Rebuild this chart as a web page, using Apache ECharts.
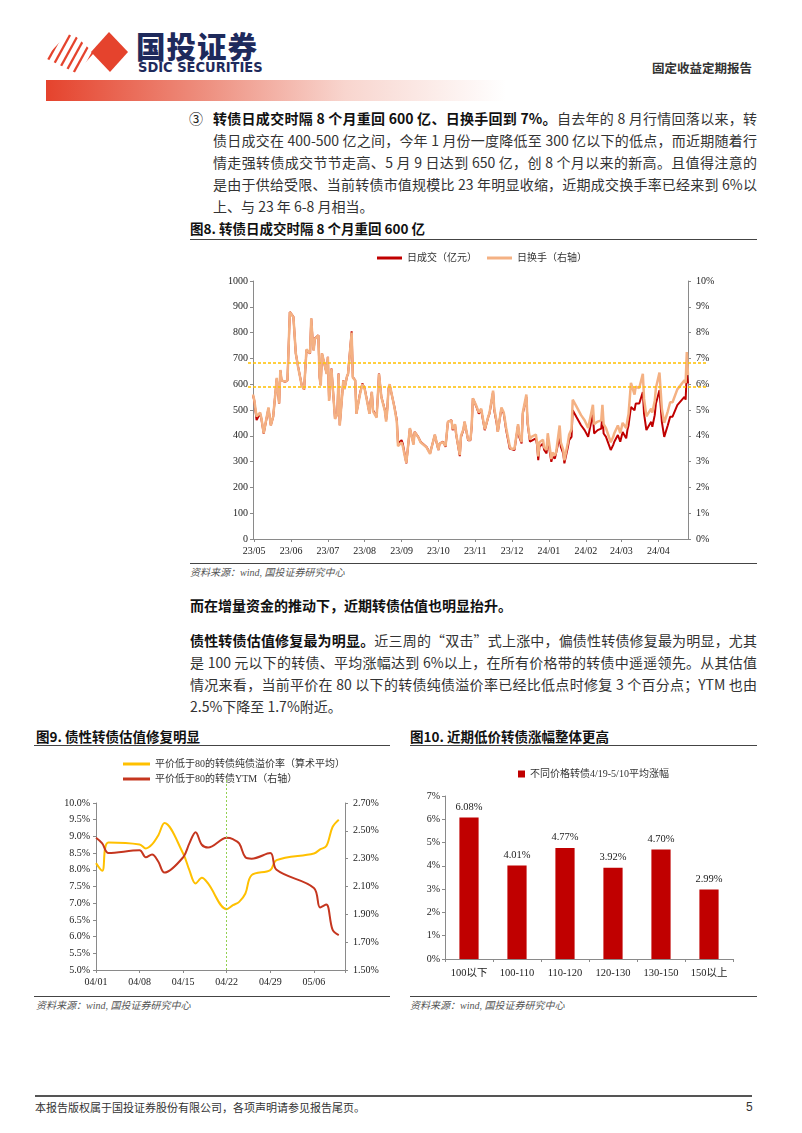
<!DOCTYPE html>
<html><head><meta charset="utf-8">
<script src="https://cdn.jsdelivr.net/npm/echarts@6/dist/echarts.min.js"></script>
<style>
html,body{margin:0;padding:0;background:#fff}
body{width:802px;height:1133px;position:relative;overflow:hidden;font-family:"Noto Sans CJK SC","Liberation Sans",sans-serif;color:#222}
.a{position:absolute;white-space:nowrap}
.ln{position:absolute;font-size:14px;line-height:22px;height:22px;white-space:nowrap;color:#333;text-align:justify;text-align-last:justify}
.nj{text-align:left;text-align-last:left}
b{font-weight:700;color:#111}
.ttl{position:absolute;font-size:13.5px;font-weight:700;color:#111;white-space:nowrap}
.rule{position:absolute;height:0;border-top:1.5px solid #444}
.src{position:absolute;font-size:10px;font-style:italic;color:#555;white-space:nowrap;font-family:"Liberation Serif","Noto Sans CJK SC",serif}
.ch{position:absolute}
</style></head>
<body>
<!-- header -->
<svg class="a" style="left:40px;top:28px" width="100" height="48">
  <defs><clipPath id="cp"><polygon points="30,3 54,25 36,45 5,30"/></clipPath></defs>
  <g clip-path="url(#cp)" stroke="#E5432D" stroke-width="2.3">
    <line x1="-6" y1="42" x2="16" y2="2"/><line x1="1" y1="45" x2="23" y2="5"/>
    <line x1="8" y1="47" x2="30" y2="7"/><line x1="15" y1="49" x2="37" y2="9"/>
    <line x1="22" y1="51" x2="44" y2="11"/><line x1="29" y1="53" x2="51" y2="13"/>
    <line x1="36" y1="55" x2="58" y2="15"/>
  </g>
  <polygon points="69,4 88,24 70,44 51,24" fill="#E5432D"/>
</svg>
<div class="a" style="left:136px;top:28px;font-size:29.5px;font-weight:900;color:#1E2A5C;letter-spacing:1px;line-height:34px">国投证券</div>
<div class="a" style="left:138px;top:60px;font-size:14.5px;font-weight:700;color:#1E2A5C;font-family:'Liberation Sans Narrow','DejaVu Sans Condensed','Liberation Sans',sans-serif;line-height:15px;letter-spacing:0px">SDIC SECURITIES</div>
<div class="a" style="left:652px;top:60px;font-size:12.5px;font-weight:700;color:#333;line-height:16px">固定收益定期报告</div>
<div class="a" style="left:46px;top:80px;width:460px;height:21px;background:linear-gradient(to right,#E5432D 0%,#EE9080 35%,#F8D5CE 65%,#ffffff 100%)"></div>

<!-- paragraph 3 -->
<div class="a" style="left:189px;top:107px;font-size:14px;line-height:22px;color:#222">③</div>
<div class="ln" style="left:213px;top:107px;width:544px"><b>转债日成交时隔 8 个月重回 600 亿、日换手回到 7%。</b>自去年的 8 月行情回落以来，转</div>
<div class="ln" style="left:213px;top:129px;width:544px">债日成交在 400-500 亿之间，今年 1 月份一度降低至 300 亿以下的低点，而近期随着行</div>
<div class="ln" style="left:213px;top:151px;width:544px">情走强转债成交节节走高、5 月 9 日达到 650 亿，创 8 个月以来的新高。且值得注意的</div>
<div class="ln" style="left:213px;top:173px;width:544px">是由于供给受限、当前转债市值规模比 23 年明显收缩，近期成交换手率已经来到 6%以</div>
<div class="ln nj" style="left:213px;top:195px;width:544px">上、与 23 年 6-8 月相当。</div>

<div class="ttl" style="left:190px;top:218px">图8. 转债日成交时隔 8 个月重回 600 亿</div>
<div class="rule" style="left:190px;top:239px;width:567px"></div>
<div id="c8" class="ch" style="left:180px;top:244px;width:590px;height:318px"></div>
<div class="rule" style="left:190px;top:563px;width:567px;border-top-width:1px"></div>
<div class="src" style="left:190px;top:564px">资料来源：wind, 国投证券研究中心</div>

<div class="ln nj" style="left:190px;top:594px;width:567px"><b>而在增量资金的推动下，近期转债估值也明显抬升。</b></div>
<div class="ln" style="left:190px;top:629px;width:567px"><b>债性转债估值修复最为明显。</b>近三周的“双击”式上涨中，偏债性转债修复最为明显，尤其</div>
<div class="ln" style="left:190px;top:651px;width:567px">是 100 元以下的转债、平均涨幅达到 6%以上，在所有价格带的转债中遥遥领先。从其估值</div>
<div class="ln" style="left:190px;top:673px;width:567px">情况来看，当前平价在 80 以下的转债纯债溢价率已经比低点时修复 3 个百分点；YTM 也由</div>
<div class="ln nj" style="left:190px;top:695px;width:567px">2.5%下降至 1.7%附近。</div>

<div class="ttl" style="left:36px;top:726px">图9. 债性转债估值修复明显</div>
<div class="rule" style="left:34px;top:745px;width:356px"></div>
<div id="c9" class="ch" style="left:30px;top:750px;width:370px;height:244px"></div>
<div class="rule" style="left:34px;top:996px;width:356px;border-top-width:1px"></div>
<div class="src" style="left:36px;top:997px">资料来源：wind, 国投证券研究中心</div>

<div class="ttl" style="left:410px;top:726px">图10. 近期低价转债涨幅整体更高</div>
<div class="rule" style="left:410px;top:745px;width:347px"></div>
<div id="c10" class="ch" style="left:400px;top:750px;width:380px;height:244px"></div>
<div class="rule" style="left:410px;top:996px;width:347px;border-top-width:1px"></div>
<div class="src" style="left:410px;top:997px">资料来源：wind, 国投证券研究中心</div>

<div class="rule" style="left:35px;top:1095px;width:717px;border-top:2px solid #555"></div>
<div class="a" style="left:35px;top:1099px;font-size:11px;color:#333;line-height:16px">本报告版权属于国投证券股份有限公司，各项声明请参见报告尾页。</div>
<div class="a" style="left:746px;top:1099px;font-size:12px;color:#333;line-height:16px;font-family:'Liberation Sans',sans-serif">5</div>

<script>
// ---------- Figure 8 data ----------
const volDates = ['2023-05-09','2023-05-10','2023-05-12','2023-05-15','2023-05-16','2023-05-18','2023-05-22','2023-05-24','2023-05-26','2023-05-29','2023-05-31',
'2023-06-01','2023-06-02','2023-06-05','2023-06-07','2023-06-09','2023-06-12','2023-06-14','2023-06-16','2023-06-19','2023-06-21','2023-06-23','2023-06-26','2023-06-27','2023-06-28','2023-06-29','2023-06-30',
'2023-07-03','2023-07-04','2023-07-05','2023-07-06','2023-07-07','2023-07-10','2023-07-11','2023-07-12','2023-07-14','2023-07-17','2023-07-18','2023-07-19','2023-07-20','2023-07-21','2023-07-24','2023-07-25','2023-07-27','2023-07-28','2023-07-31',
'2023-08-01','2023-08-03','2023-08-04','2023-08-07','2023-08-09','2023-08-11','2023-08-14','2023-08-15','2023-08-16','2023-08-17','2023-08-18','2023-08-21','2023-08-22','2023-08-23','2023-08-25','2023-08-28','2023-08-29','2023-08-30','2023-08-31',
'2023-09-01','2023-09-05','2023-09-07','2023-09-08','2023-09-11','2023-09-12','2023-09-14','2023-09-15','2023-09-18','2023-09-19','2023-09-21','2023-09-22','2023-09-25','2023-09-27',
'2023-10-02','2023-10-05','2023-10-06','2023-10-09','2023-10-10','2023-10-12','2023-10-13','2023-10-16','2023-10-18','2023-10-20','2023-10-23','2023-10-24','2023-10-26','2023-10-27','2023-10-30','2023-10-31',
'2023-11-02','2023-11-03','2023-11-06','2023-11-08','2023-11-09','2023-11-10','2023-11-13','2023-11-15','2023-11-17','2023-11-20','2023-11-21','2023-11-23','2023-11-24','2023-11-27','2023-11-28','2023-11-30',
'2023-12-01','2023-12-04','2023-12-06','2023-12-08','2023-12-11','2023-12-12','2023-12-15','2023-12-18','2023-12-19','2023-12-21','2023-12-22','2023-12-25','2023-12-26','2023-12-28','2023-12-29',
'2024-01-02','2024-01-03','2024-01-04','2024-01-05','2024-01-08','2024-01-09','2024-01-11','2024-01-12','2024-01-15','2024-01-16','2024-01-18','2024-01-19','2024-01-22','2024-01-23','2024-01-25','2024-01-26','2024-01-29','2024-01-30',
'2024-02-01','2024-02-02','2024-02-05','2024-02-09','2024-02-12','2024-02-15','2024-02-19','2024-02-20','2024-02-23','2024-02-26','2024-02-27','2024-02-28',
'2024-03-01','2024-03-05','2024-03-07','2024-03-08','2024-03-11','2024-03-13','2024-03-15','2024-03-18','2024-03-19','2024-03-20','2024-03-22','2024-03-25','2024-03-26','2024-03-29',
'2024-04-01','2024-04-02','2024-04-04','2024-04-08','2024-04-09','2024-04-11','2024-04-12','2024-04-15','2024-04-17','2024-04-19','2024-04-22','2024-04-24','2024-04-26','2024-04-30',
'2024-05-06','2024-05-07','2024-05-08','2024-05-09'];
const volume = [557,538,461,486,467,409,506,441,474,622,525,
654,615,609,615,880,861,719,667,596,579,732,719,854,783,732,777,
790,628,596,719,699,641,706,538,661,467,461,486,641,441,615,583,628,641,805,
628,615,486,564,603,583,512,486,538,570,499,474,551,641,551,499,461,506,583,
596,512,461,370,383,370,319,293,428,428,370,415,396,377,
357,332,351,403,383,345,370,377,357,454,461,422,441,403,321,396,
422,454,383,383,435,545,512,486,500,422,422,474,486,570,499,448,
415,506,486,422,351,345,345,441,396,370,486,551,448,377,383,
390,364,306,357,370,345,332,390,299,319,312,319,396,357,332,293,357,383,
396,499,474,441,422,396,486,409,422,428,480,409,
396,345,364,377,403,377,415,390,422,441,512,499,525,525,
570,486,422,454,435,480,525,577,454,396,441,474,474,519,
551,540,648,603];
const turnover = [5.60,5.40,4.75,4.90,4.70,4.10,5.10,4.40,4.75,6.25,5.25,
6.55,6.15,6.10,6.15,8.80,8.60,7.20,6.65,5.95,5.80,7.35,7.20,8.55,7.80,7.30,7.75,
7.90,6.25,5.95,7.20,7.00,6.40,7.05,5.35,6.60,4.65,4.60,4.85,6.40,4.40,6.15,5.80,6.30,6.40,8.00,
6.25,6.15,4.85,5.60,6.00,5.80,5.10,4.85,5.35,5.70,4.95,4.70,5.50,6.40,5.50,4.95,4.55,5.00,5.85,
6.00,5.10,4.55,3.60,3.75,3.60,3.15,2.95,4.30,4.25,3.65,4.15,3.95,3.75,
3.55,3.30,3.50,4.05,3.85,3.45,3.70,3.75,3.60,4.55,4.60,4.25,4.45,4.05,3.25,4.00,
4.25,4.55,3.85,3.85,4.40,5.45,5.15,4.90,5.05,4.25,4.20,4.75,4.90,5.75,5.05,4.55,
4.15,5.10,4.90,4.30,3.60,3.50,3.50,4.45,4.05,3.75,4.90,5.60,4.55,3.85,3.95,
4.05,3.75,3.20,3.75,3.85,3.55,3.45,4.10,3.10,3.35,3.25,3.35,4.40,3.75,3.45,3.05,3.75,4.05,
4.25,5.40,5.15,4.80,4.60,4.30,5.20,4.45,4.55,4.60,5.20,4.45,
4.30,3.75,3.95,4.10,4.40,4.10,4.50,4.30,4.60,4.85,6.05,5.60,5.90,5.85,
6.40,5.45,4.75,5.05,4.90,5.35,5.85,6.45,5.05,4.50,4.95,5.30,5.30,5.80,
6.15,6.05,7.25,6.35];
const monthLabels = ['23/05','23/06','23/07','23/08','23/09','23/10','23/11','23/12','24/01','24/02','24/03','24/04'];
const monthLabelDates = ['2023-05-10','2023-06-10','2023-07-11','2023-08-11','2023-09-11','2023-10-12','2023-11-12','2023-12-13','2024-01-13','2024-02-13','2024-03-14','2024-04-14'];
const refLines8 = [683, 590];
const axisStart8 = '2023-05-09', axisEnd8 = '2024-05-09';

// ---------- Figure 9 data ----------
const valDates = ['2024-04-01','2024-04-02','2024-04-03','2024-04-08','2024-04-09','2024-04-10','2024-04-11','2024-04-12','2024-04-15','2024-04-16','2024-04-17','2024-04-18','2024-04-19','2024-04-22','2024-04-23','2024-04-24','2024-04-25','2024-04-26','2024-04-29','2024-04-30','2024-05-06','2024-05-07','2024-05-08','2024-05-09','2024-05-10'];
const premium = [8.20,7.97,8.82,8.76,8.64,8.76,9.03,9.40,8.49,7.99,7.59,7.76,7.59,6.82,6.94,7.04,7.29,7.84,7.99,8.29,8.49,8.61,8.71,9.28,9.50];
const ytm = [2.45,2.41,2.34,2.36,2.31,2.33,2.28,2.20,2.31,2.41,2.49,2.40,2.38,2.45,2.44,2.41,2.31,2.30,2.34,2.22,2.09,1.95,1.97,1.79,1.75];
const weekLabels = ['04/01','04/08','04/15','04/22','04/29','05/06'];
const markDate9 = '2024-04-22';
const axisStart9 = '2024-04-01', axisEnd9 = '2024-05-11';

// ---------- Figure 10 data ----------
const priceBands = ['100以下','100-110','110-120','120-130','130-150','150以上'];
const avgGain = [6.08,4.01,4.77,3.92,4.70,2.99];

const DAY = 86400000;
const dayIdx = (s, base) => Math.round((Date.parse(s) - Date.parse(base)) / DAY);

const NUMF = '"Liberation Serif","Noto Sans CJK SC",serif';
const AX = '#8a8a8a';
const lbl = {fontFamily: NUMF, fontSize: 10, color: '#222'};
const hiddenAxis = {show: false};

// ---------- Chart 8 ----------
(function(){
  const c = echarts.init(document.getElementById('c8'));
  const max = dayIdx(axisEnd8, axisStart8);
  const ticks = monthLabelDates.map(d => dayIdx(d, axisStart8));
  c.setOption({
    animation: false,
    legend: {top: 4, left: 192, itemGap: 10, itemWidth: 25, itemHeight: 3, icon: 'rect',
      data: ['日成交（亿元）', '日换手（右轴）'],
      textStyle: {fontFamily: NUMF, fontSize: 10, color: '#333'}},
    grid: [{left: 73, top: 37, width: 435, height: 258},
           {left: 68, top: 37, width: 459, height: 258}],
    xAxis: [{type: 'value', min: 0, max: max, gridIndex: 0,
      axisLine: {lineStyle: {color: AX}},
      axisTick: {show: true, length: 3, lineStyle: {color: AX}, customValues: ticks},
      splitLine: {show: false},
      axisLabel: Object.assign({margin: 7, customValues: ticks,
        formatter: v => { const i = ticks.indexOf(Math.round(v)); return i >= 0 ? monthLabels[i] : ''; }}, lbl)},
      Object.assign({type: 'value', min: 0, max: 1, gridIndex: 1}, hiddenAxis)],
    yAxis: [
      {type: 'value', min: 0, max: 1000, interval: 100, splitLine: {show: false}, gridIndex: 0,
        axisLine: {show: true, lineStyle: {color: AX}}, axisTick: {show: true, length: 3, lineStyle: {color: AX}},
        axisLabel: Object.assign({margin: 5, formatter: v => String(v)}, lbl)},
      {type: 'value', min: 0, max: 10, interval: 1, splitLine: {show: false}, gridIndex: 0,
        axisLine: {show: true, lineStyle: {color: AX}}, axisTick: {show: true, length: 3, lineStyle: {color: AX}},
        axisLabel: Object.assign({margin: 8, formatter: '{value}%'}, lbl)},
      Object.assign({type: 'value', min: 0, max: 1000, gridIndex: 1}, hiddenAxis)
    ],
    series: [
      {name: 'ref', type: 'line', xAxisIndex: 1, yAxisIndex: 2, data: [[0, 0]], showSymbol: false, symbol: 'none',
        lineStyle: {opacity: 0}, silent: true, z: 1,
        markLine: {silent: true, symbol: 'none', label: {show: false},
          lineStyle: {color: '#FFC000', type: [3, 2], width: 1.5},
          data: refLines8.map(v => ({yAxis: v}))}},
      {name: '日成交（亿元）', type: 'line', yAxisIndex: 0, showSymbol: false, symbol: 'none', z: 2,
        data: volDates.map((d, i) => [dayIdx(d, axisStart8), volume[i]]),
        lineStyle: {color: '#C00000', width: 2}, itemStyle: {color: '#C00000'}},
      {name: '日换手（右轴）', type: 'line', yAxisIndex: 1, showSymbol: false, symbol: 'none', z: 3,
        data: volDates.map((d, i) => [dayIdx(d, axisStart8), turnover[i]]),
        lineStyle: {color: '#F4B183', width: 2.5}, itemStyle: {color: '#F4B183'}}
    ]
  });
})();

// ---------- Chart 9 ----------
(function(){
  const c = echarts.init(document.getElementById('c9'));
  const max = dayIdx(axisEnd9, axisStart9);
  const rightTicks = [1.5,1.7,1.9,2.1,2.3,2.5,2.7];
  const md = dayIdx(markDate9, axisStart9);
  c.setOption({
    animation: false,
    legend: {orient: 'vertical', left: 88, top: 4, itemGap: 5, itemWidth: 27, itemHeight: 3, icon: 'rect',
      data: ['平价低于80的转债纯债溢价率（算术平均）', '平价低于80的转债YTM（右轴）'],
      textStyle: {fontFamily: NUMF, fontSize: 10, color: '#333'}},
    grid: [{left: 66, top: 53, width: 249, height: 167},
           {left: 66, top: 30, width: 249, height: 190}],
    xAxis: [{type: 'value', min: 0, max: max, interval: 7, gridIndex: 0,
      axisLine: {lineStyle: {color: AX}}, axisTick: {show: true, length: 3, lineStyle: {color: AX}},
      splitLine: {show: false},
      axisLabel: Object.assign({margin: 7, formatter: v => (v % 7 === 0 && weekLabels[v / 7]) ? weekLabels[v / 7] : ''}, lbl)},
      Object.assign({type: 'value', min: 0, max: max, gridIndex: 1}, hiddenAxis)],
    yAxis: [
      {type: 'value', min: 5, max: 10, interval: 0.5, splitLine: {show: false}, gridIndex: 0,
        axisLine: {show: true, lineStyle: {color: AX}}, axisTick: {show: true, length: 3, lineStyle: {color: AX}},
        axisLabel: Object.assign({margin: 6, formatter: v => v.toFixed(1) + '%'}, lbl)},
      {type: 'value', min: 1.5, max: 2.7, interval: 0.1, splitLine: {show: false}, gridIndex: 0,
        axisLine: {show: true, lineStyle: {color: AX}},
        axisTick: {show: true, length: 3, lineStyle: {color: AX}, customValues: rightTicks},
        axisLabel: Object.assign({margin: 8, customValues: rightTicks,
          formatter: v => (Math.round(v * 10) % 2 === 1) ? v.toFixed(2) + '%' : ''}, lbl)},
      Object.assign({type: 'value', min: 0, max: 1, gridIndex: 1}, hiddenAxis)
    ],
    series: [
      {name: 'mark', type: 'line', xAxisIndex: 1, yAxisIndex: 2, data: [[md, 0]], showSymbol: false, symbol: 'none',
        lineStyle: {opacity: 0}, silent: true, z: 1,
        markLine: {silent: true, symbol: 'none', label: {show: false},
          lineStyle: {color: '#92D050', type: [2, 2], width: 1},
          data: [{xAxis: md}]}},
      {name: '平价低于80的转债纯债溢价率（算术平均）', type: 'line', yAxisIndex: 0, smooth: 0.35, showSymbol: false, symbol: 'none', z: 2,
        data: valDates.map((d, i) => [dayIdx(d, axisStart9), premium[i]]),
        lineStyle: {color: '#FFC000', width: 2}, itemStyle: {color: '#FFC000'}},
      {name: '平价低于80的转债YTM（右轴）', type: 'line', yAxisIndex: 1, smooth: 0.35, showSymbol: false, symbol: 'none', z: 3,
        data: valDates.map((d, i) => [dayIdx(d, axisStart9), ytm[i]]),
        lineStyle: {color: '#C5361F', width: 2}, itemStyle: {color: '#C5361F'}}
    ]
  });
})();

// ---------- Chart 10 ----------
(function(){
  const c = echarts.init(document.getElementById('c10'));
  c.setOption({
    animation: false,
    legend: {left: 113, top: 14, itemWidth: 7, itemHeight: 7, icon: 'rect',
      textStyle: {fontFamily: NUMF, fontSize: 10, color: '#333'}},
    grid: {left: 45, top: 46, width: 288, height: 163},
    xAxis: {type: 'category', data: priceBands,
      axisLine: {lineStyle: {color: AX}}, axisTick: {show: true, length: 3, lineStyle: {color: AX}},
      axisLabel: Object.assign({margin: 9}, lbl, {fontSize: 10.5})},
    yAxis: {type: 'value', min: 0, max: 7, interval: 1, splitLine: {show: false},
      axisLine: {show: true, lineStyle: {color: AX}}, axisTick: {show: true, length: 3, lineStyle: {color: AX}},
      axisLabel: Object.assign({margin: 5, formatter: '{value}%'}, lbl)},
    series: [{name: '不同价格转债4/19-5/10平均涨幅', type: 'bar', barWidth: '40%',
      data: avgGain, itemStyle: {color: '#C00000'},
      label: {show: true, position: 'top', distance: 5, formatter: p => p.value.toFixed(2) + '%',
        fontFamily: NUMF, fontSize: 10.5, color: '#222'}}]
  });
})();
</script>
</body></html>
